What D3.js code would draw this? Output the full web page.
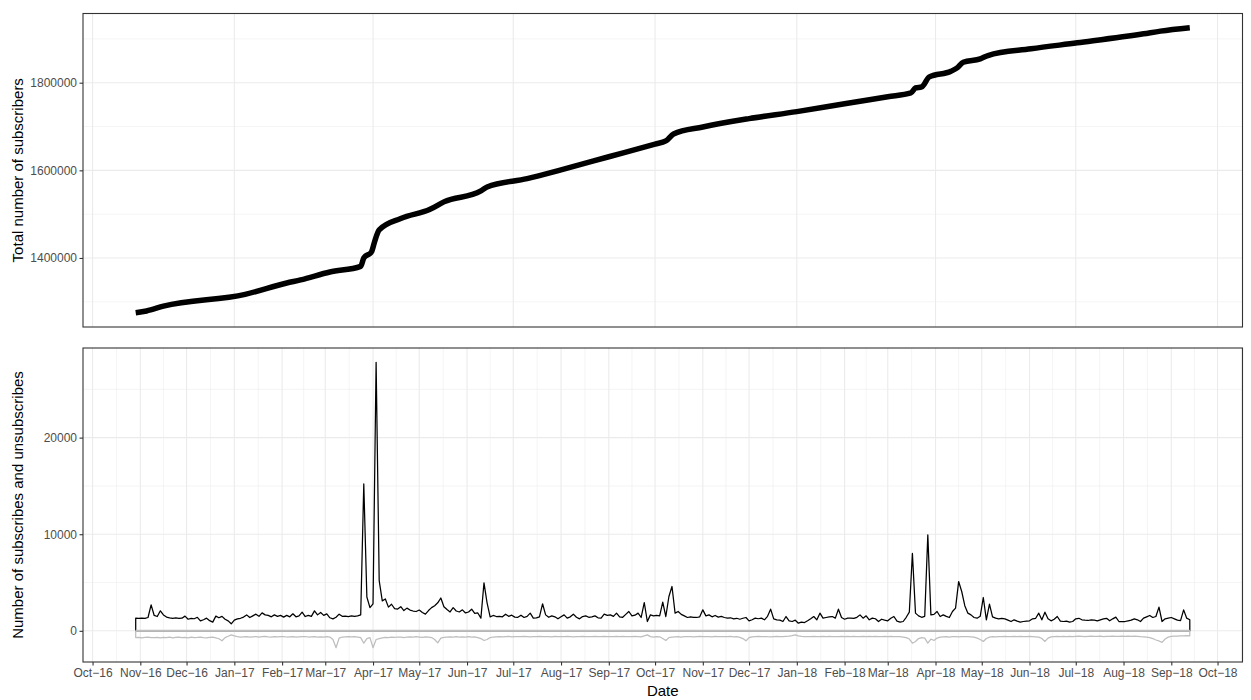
<!DOCTYPE html>
<html>
<head>
<meta charset="utf-8">
<script src="https://cdn.jsdelivr.net/npm/d3@7"></script>
<style>
  body { margin: 0; background: #fff; }
  svg { display: block; }
  text { font-family: "Liberation Sans", Arial, Helvetica, sans-serif; }
</style>
</head>
<body>
<svg id="chart" width="1251" height="700"></svg>
<script>
// Daily subscription activity, sampled every second day from firstDay
const firstDay = "2016-10-29";
const stepDays = 2;

const subscribes = [
  1310,1300,1320,1290,1380,2690,1590,1480,2070,1650,
  1420,1350,1300,1330,1280,1310,1520,1200,1290,1250,
  1400,1035,1150,1310,1050,900,1520,1350,1500,1200,
  1035,725,1100,1240,1300,1420,1650,1380,1550,1725,
  1500,1860,1650,1600,1450,1650,1500,1600,1420,1600,
  1450,1760,1450,1550,1930,1480,1600,1500,2070,1650,
  1900,1600,1750,1350,1240,1400,1725,1500,1520,1480,
  1550,1500,1540,1650,15200,3500,2400,2800,27800,5200,
  3100,3300,2450,2750,2300,2250,2500,2100,2350,2150,
  2050,2000,2150,1900,1725,2100,2400,2600,2900,3400,
  2500,2200,1950,2400,2050,1950,2170,1850,1950,2240,
  1800,1850,1310,4960,2900,1450,1590,1480,1500,1450,
  1725,1500,1620,1420,1400,1620,1380,1500,1830,1310,
  1350,1450,2800,1650,1400,1550,1450,1240,1450,1650,
  1310,1450,1725,1400,1240,1480,1550,1400,1450,1550,
  1350,1310,1725,1600,1650,1500,1830,1450,1400,1700,
  2000,1550,1620,1830,1380,2930,965,1650,1550,1590,
  1550,2970,1480,3550,4590,1830,2000,1700,1550,1380,
  1450,1400,1380,1450,2170,1550,1650,1450,1590,1420,
  1500,1380,1310,1350,1240,1300,1200,1300,1380,1035,
  1150,1310,1250,1310,1140,1500,2240,1240,1140,1100,
  965,1480,1035,965,1100,790,900,860,1035,1250,
  1480,1140,1830,1310,1380,1450,1480,1310,2240,1380,
  1200,1310,1310,1280,1400,1650,1310,1550,1140,1310,
  1250,965,1200,1100,1035,1300,1480,1000,900,965,
  1400,1930,8030,1830,1550,1400,1500,9930,1650,1700,
  2000,1480,1650,1500,1380,2000,2350,5100,4070,2600,
  1830,1650,1380,1310,1500,3450,1140,2760,1450,1310,
  1240,1300,1240,1100,965,1140,1000,900,965,1000,
  1035,1240,1300,1830,1140,1930,1240,1035,1200,1480,
  1000,965,1000,900,965,1240,1300,1140,1100,1070,
  1140,1100,1035,1140,1240,1300,1035,1240,1415,965,
  965,965,1035,1100,1240,1140,965,1310,1450,1590,
  1380,1480,2450,965,1240,1310,1380,1240,1100,1050,
  2170,1310,1140
];

const unsubscribes = [
  -700,-680,-720,-690,-660,-710,-700,-680,-730,-690,
  -700,-660,-720,-680,-650,-700,-690,-720,-660,-700,
  -680,-650,-700,-720,-690,-660,-740,-820,-1030,-700,
  -560,-420,-520,-600,-640,-620,-600,-650,-620,-600,
  -640,-610,-580,-620,-650,-600,-630,-610,-590,-640,
  -620,-600,-650,-630,-610,-590,-640,-620,-600,-660,
  -620,-640,-600,-650,-900,-1750,-760,-640,-620,-600,
  -630,-610,-650,-700,-1280,-800,-700,-1750,-900,-800,
  -720,-680,-700,-650,-690,-640,-660,-700,-640,-620,
  -650,-600,-640,-680,-620,-660,-700,-900,-1250,-760,
  -680,-640,-620,-660,-600,-640,-620,-650,-600,-640,
  -620,-700,-800,-1000,-900,-700,-640,-620,-600,-630,
  -600,-580,-620,-600,-590,-610,-580,-600,-620,-590,
  -600,-580,-610,-590,-600,-620,-580,-600,-590,-610,
  -580,-600,-620,-590,-600,-580,-610,-600,-590,-570,
  -600,-590,-580,-610,-600,-590,-570,-600,-580,-610,
  -590,-600,-580,-600,-620,-520,-420,-600,-640,-610,
  -620,-800,-1000,-700,-650,-620,-600,-640,-610,-600,
  -590,-620,-600,-580,-610,-590,-600,-620,-580,-600,
  -590,-610,-600,-580,-620,-600,-680,-800,-1035,-700,
  -620,-600,-580,-600,-590,-610,-620,-600,-580,-590,
  -600,-570,-560,-500,-420,-520,-580,-600,-590,-610,
  -580,-600,-590,-570,-600,-580,-610,-590,-600,-580,
  -590,-570,-600,-580,-590,-610,-580,-600,-570,-590,
  -580,-600,-590,-570,-600,-580,-590,-610,-600,-650,
  -700,-850,-1280,-1100,-800,-700,-750,-1280,-850,-1000,
  -750,-650,-620,-600,-640,-610,-600,-620,-590,-610,
  -600,-620,-650,-750,-900,-1100,-800,-650,-600,-620,
  -590,-600,-580,-610,-590,-570,-600,-580,-590,-600,
  -580,-600,-620,-650,-800,-1100,-750,-620,-600,-580,
  -590,-570,-600,-580,-590,-570,-560,-580,-600,-570,
  -560,-580,-570,-560,-590,-570,-580,-560,-570,-580,
  -560,-570,-550,-580,-560,-570,-600,-620,-650,-700,
  -800,-950,-1050,-1200,-850,-650,-580,-560,-540,-530,
  -520,-510,-520
];

// Running total of subscribers
const totalDates = [
  "2016-10-29","2016-11-05","2016-11-16","2017-01-08","2017-02-04","2017-02-13",
  "2017-03-04","2017-03-24","2017-03-26","2017-03-31","2017-04-02","2017-04-05",
  "2017-04-19","2017-05-08","2017-05-17","2017-06-10","2017-06-14","2017-07-10",
  "2017-08-01","2017-09-01","2017-10-01","2017-10-08","2017-10-13","2017-11-01",
  "2017-12-01","2018-01-01","2018-02-01","2018-03-01","2018-03-16","2018-03-19",
  "2018-03-23","2018-03-28","2018-04-11","2018-04-15","2018-04-19","2018-04-30",
  "2018-05-05","2018-06-02","2018-07-02","2018-08-14","2018-08-25","2018-09-13"
];
const totalValues = [
  1275000,1279000,1290000,1317000,1343000,1350000,
  1368000,1381000,1400000,1414000,1437000,1464000,
  1490000,1511000,1528000,1553000,1562000,1581000,
  1601000,1631000,1660000,1667000,1683000,1699000,
  1718000,1734000,1752000,1768000,1776600,1788000,
  1790300,1813200,1826000,1833800,1846600,1854400,
  1862000,1877300,1891000,1911600,1917700,1925400
];

const topYTicks = [1400000, 1600000, 1800000];
const bottomYTicks = [0, 10000, 20000];
const monthLabelFormat = "%b\u2212%y";

const titles = {
  x: "Date",
  top: "Total number of subscribers",
  bottom: "Number of subscribes and unsubscribes"
};

// ---- layout ----
const svg = d3.select("#chart");
const left = 83, right = 1242.5;
const topPanel = { y0: 13.5, y1: 327 };
const botPanel = { y0: 348, y1: 662 };
const gridCol = "#EBEBEB";
const frameCol = "#333333";
const tickTextCol = "#4D4D4D";

const parse = d3.utcParse("%Y-%m-%d");
const start = parse(firstDay);
const days = subscribes.map((_, i) => d3.utcDay.offset(start, i * stepDays));
const series = days.map((d, i) => ({ date: d, sub: subscribes[i], unsub: unsubscribes[i] }));
const totals = totalDates.map((d, i) => ({ date: parse(d), value: totalValues[i] }));

function expand(ext, f = 0.05) {
  const pad = (ext[1] - ext[0]) * f;
  return [ext[0] - pad, ext[1] + pad];
}

const xExt = d3.extent(days.concat(totals.map(d => d.date)));
const xPad = (xExt[1] - xExt[0]) * 0.05;
const x = d3.scaleUtc()
  .domain([new Date(+xExt[0] - xPad), new Date(+xExt[1] + xPad)])
  .range([left, right]);

const yTop = d3.scaleLinear()
  .domain(expand(d3.extent(totalValues)))
  .range([topPanel.y1, topPanel.y0]);

const yBot = d3.scaleLinear()
  .domain(expand([d3.min(unsubscribes), d3.max(subscribes)]))
  .range([botPanel.y1, botPanel.y0]);

// month breaks (bottom panel) and quarterly breaks (top panel)
const months = x.ticks(d3.utcMonth.every(1));
const monthMinor = [];
months.forEach((m, i) => {
  const next = i < months.length - 1 ? months[i + 1] : d3.utcMonth.offset(m, 1);
  monthMinor.push(new Date((+m + +next) / 2));
});
const prevM = d3.utcMonth.offset(months[0], -1);
monthMinor.unshift(new Date((+prevM + +months[0]) / 2));
const quarters = x.ticks(d3.utcMonth.every(3));

function gridLines(g, xs, y0, y1, width) {
  g.selectAll(null).data(xs.filter(d => x(d) >= left && x(d) <= right)).join("line")
    .attr("x1", d => x(d)).attr("x2", d => x(d))
    .attr("y1", y0).attr("y2", y1)
    .attr("stroke", gridCol).attr("stroke-width", width);
  return g;
}

// ---- top panel ----
const gTop = svg.append("g");
const topMinorY = [1300000, 1500000, 1700000, 1900000];
gTop.selectAll(null).data(topMinorY).join("line")
  .attr("x1", left).attr("x2", right)
  .attr("y1", d => yTop(d)).attr("y2", d => yTop(d))
  .attr("stroke", gridCol).attr("stroke-width", 0.55);
gTop.selectAll(null).data(topYTicks).join("line")
  .attr("x1", left).attr("x2", right)
  .attr("y1", d => yTop(d)).attr("y2", d => yTop(d))
  .attr("stroke", gridCol).attr("stroke-width", 1.1);
gridLines(gTop, quarters, topPanel.y0, topPanel.y1, 1.1);

gTop.append("path")
  .datum(totals)
  .attr("fill", "none")
  .attr("stroke", "#000")
  .attr("stroke-width", 5.5)
  .attr("stroke-linejoin", "round")
  .attr("d", d3.line().curve(d3.curveMonotoneX).x(d => x(d.date)).y(d => yTop(d.value)));

gTop.append("rect")
  .attr("x", left).attr("y", topPanel.y0)
  .attr("width", right - left).attr("height", topPanel.y1 - topPanel.y0)
  .attr("fill", "none").attr("stroke", frameCol).attr("stroke-width", 1.1);

const axTop = svg.append("g").attr("transform", `translate(${left},0)`)
  .call(d3.axisLeft(yTop).tickValues(topYTicks).tickSize(3.5).tickPadding(2.5).tickFormat(d3.format("d")));
axTop.select(".domain").remove();
axTop.selectAll(".tick line").attr("stroke", frameCol).attr("stroke-width", 1.1);
axTop.selectAll(".tick text").attr("fill", tickTextCol).attr("font-size", 12)
  .style("font-family", "'Liberation Sans', Arial, sans-serif");

// ---- bottom panel ----
const gBot = svg.append("g");
const botMinorY = [5000, 15000, 25000];
gBot.selectAll(null).data(botMinorY).join("line")
  .attr("x1", left).attr("x2", right)
  .attr("y1", d => yBot(d)).attr("y2", d => yBot(d))
  .attr("stroke", gridCol).attr("stroke-width", 0.55);
gBot.selectAll(null).data(bottomYTicks).join("line")
  .attr("x1", left).attr("x2", right)
  .attr("y1", d => yBot(d)).attr("y2", d => yBot(d))
  .attr("stroke", gridCol).attr("stroke-width", 1.1);
gridLines(gBot, monthMinor, botPanel.y0, botPanel.y1, 0.55);
gridLines(gBot, months, botPanel.y0, botPanel.y1, 1.1);

// each series is outlined as a closed shape against the zero line
const first = series[0].date, last = series[series.length - 1].date;
function outline(key) {
  const pts = [{ date: first, v: 0 }]
    .concat(series.map(d => ({ date: d.date, v: d[key] })))
    .concat([{ date: last, v: 0 }, { date: first, v: 0 }]);
  return d3.line().x(d => x(d.date)).y(d => yBot(d.v))(pts);
}
gBot.append("path").attr("d", outline("sub"))
  .attr("fill", "none").attr("stroke", "#000").attr("stroke-width", 1.25)
  .attr("stroke-linejoin", "round");
gBot.append("path").attr("d", outline("unsub"))
  .attr("fill", "none").attr("stroke", "#BEBEBE").attr("stroke-width", 1.25)
  .attr("stroke-linejoin", "round");
gBot.append("line")
  .attr("x1", x(first)).attr("x2", x(last))
  .attr("y1", yBot(0)).attr("y2", yBot(0))
  .attr("stroke", "#BEBEBE").attr("stroke-width", 2);

gBot.append("rect")
  .attr("x", left).attr("y", botPanel.y0)
  .attr("width", right - left).attr("height", botPanel.y1 - botPanel.y0)
  .attr("fill", "none").attr("stroke", frameCol).attr("stroke-width", 1.1);

const axBotY = svg.append("g").attr("transform", `translate(${left},0)`)
  .call(d3.axisLeft(yBot).tickValues(bottomYTicks).tickSize(3.5).tickPadding(2.5).tickFormat(d3.format("d")));
axBotY.select(".domain").remove();
axBotY.selectAll(".tick line").attr("stroke", frameCol).attr("stroke-width", 1.1);
axBotY.selectAll(".tick text").attr("fill", tickTextCol).attr("font-size", 12)
  .style("font-family", "'Liberation Sans', Arial, sans-serif");

const axBotX = svg.append("g").attr("transform", `translate(0,${botPanel.y1})`)
  .call(d3.axisBottom(x).tickValues(months).tickSize(3.5).tickPadding(2.5)
    .tickFormat(d3.utcFormat(monthLabelFormat)));
axBotX.select(".domain").remove();
axBotX.selectAll(".tick line").attr("stroke", frameCol).attr("stroke-width", 1.1);
axBotX.selectAll(".tick text").attr("fill", tickTextCol).attr("font-size", 12)
  .style("font-family", "'Liberation Sans', Arial, sans-serif");

// ---- titles ----
svg.append("text").attr("x", (left + right) / 2).attr("y", 696)
  .attr("text-anchor", "middle").attr("font-size", 15).attr("fill", "#000").text(titles.x);
svg.append("text")
  .attr("transform", `translate(23,${(topPanel.y0 + topPanel.y1) / 2}) rotate(-90)`)
  .attr("text-anchor", "middle").attr("font-size", 15).attr("fill", "#000").text(titles.top);
svg.append("text")
  .attr("transform", `translate(23,${(botPanel.y0 + botPanel.y1) / 2}) rotate(-90)`)
  .attr("text-anchor", "middle").attr("font-size", 15).attr("fill", "#000").text(titles.bottom);
</script>
</body>
</html>
